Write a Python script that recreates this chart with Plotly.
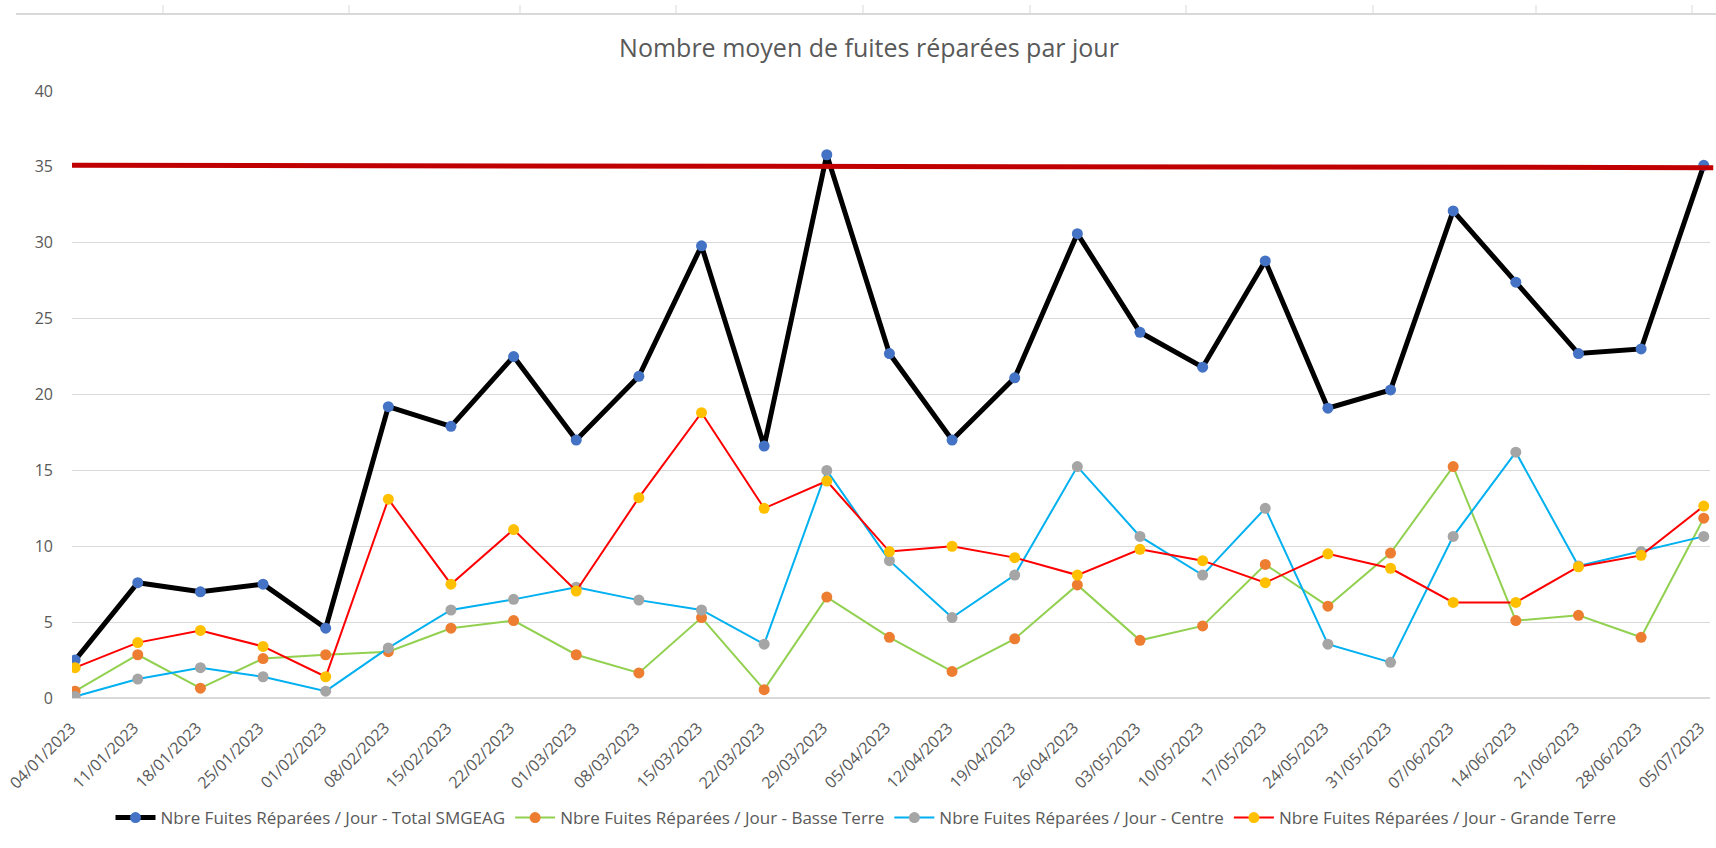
import plotly.graph_objects as go

# ---------------- data ----------------
dates = ["04/01/2023", "11/01/2023", "18/01/2023", "25/01/2023", "01/02/2023",
         "08/02/2023", "15/02/2023", "22/02/2023", "01/03/2023", "08/03/2023",
         "15/03/2023", "22/03/2023", "29/03/2023", "05/04/2023", "12/04/2023",
         "19/04/2023", "26/04/2023", "03/05/2023", "10/05/2023", "17/05/2023",
         "24/05/2023", "31/05/2023", "07/06/2023", "14/06/2023", "21/06/2023",
         "28/06/2023", "05/07/2023"]

total_smgeag = [2.5, 7.6, 7.0, 7.5, 4.6, 19.2, 17.9, 22.5, 17.0, 21.2, 29.8, 16.6,
                35.8, 22.7, 17.0, 21.1, 30.6, 24.1, 21.8, 28.8, 19.1, 20.3, 32.1,
                27.4, 22.7, 23.0, 35.1]
basse_terre = [0.45, 2.85, 0.65, 2.6, 2.85, 3.05, 4.6, 5.1, 2.85, 1.65, 5.3, 0.55,
               6.65, 4.0, 1.75, 3.9, 7.45, 3.8, 4.75, 8.8, 6.05, 9.55, 15.25, 5.1,
               5.45, 4.0, 11.85]
centre = [0.1, 1.25, 2.0, 1.4, 0.45, 3.3, 5.8, 6.5, 7.3, 6.45, 5.8, 3.55, 15.0,
          9.05, 5.3, 8.1, 15.25, 10.65, 8.1, 12.5, 3.55, 2.35, 10.65, 16.2, 8.7,
          9.65, 10.65]
grande_terre = [2.0, 3.65, 4.45, 3.4, 1.4, 13.1, 7.5, 11.1, 7.05, 13.2, 18.8, 12.5,
                14.3, 9.65, 10.0, 9.25, 8.1, 9.8, 9.05, 7.6, 9.5, 8.55, 6.3, 6.3,
                8.65, 9.4, 12.65]

target_line = [35.1, 34.95]   # objective line (start, end)

series_names = ["Nbre Fuites Réparées / Jour - Total SMGEAG",
                "Nbre Fuites Réparées / Jour - Basse Terre",
                "Nbre Fuites Réparées / Jour - Centre",
                "Nbre Fuites Réparées / Jour - Grande Terre"]

y_ticks = [0, 5, 10, 15, 20, 25, 30, 35, 40]

# ---------------- figure ----------------
W, H = 1716, 848
ML, MR, MT, MB = 72, 6, 91, 150
FONT = "Open Sans"
GREY_TXT = "#595959"

fig = go.Figure()

styles = [
    dict(line=dict(color="#000000", width=5), marker=dict(color="#4472C4", size=11)),
    dict(line=dict(color="#92D050", width=2), marker=dict(color="#ED7D31", size=11)),
    dict(line=dict(color="#00B0F0", width=2), marker=dict(color="#A5A5A5", size=11)),
    dict(line=dict(color="#FF0000", width=2), marker=dict(color="#FFC000", size=11)),
]
for name, vals, st in zip(series_names, [total_smgeag, basse_terre, centre, grande_terre], styles):
    fig.add_trace(go.Scatter(x=dates, y=vals, name=name, mode="lines+markers",
                             line=st["line"], marker=st["marker"]))

# objective line drawn on top
fig.add_shape(type="line", xref="paper", yref="y", x0=0, x1=1.002,
              y0=target_line[0], y1=target_line[1],
              line=dict(color="#C00000", width=5), layer="above")

# decorative strip at the top (sheet grid border)
pw = W - ML - MR
ph = H - MT - MB


def px2paper(x, y):
    return (x - ML) / pw, (H - MB - y) / ph


x0p, y0p = px2paper(16, 14)
x1p, _ = px2paper(W, 14)
fig.add_shape(type="line", xref="paper", yref="paper", x0=x0p, x1=x1p, y0=y0p, y1=y0p,
              line=dict(color="#D9D9D9", width=2))
for tx in [163, 349, 520, 676, 863, 1030, 1186, 1373, 1536, 1692]:
    a, b = px2paper(tx, 5)
    _, c = px2paper(tx, 14)
    fig.add_shape(type="line", xref="paper", yref="paper", x0=a, x1=a, y0=c, y1=b,
                  line=dict(color="#D9D9D9", width=1))

# rotated category labels (Excel-like placement)
for d in dates:
    fig.add_annotation(x=d, xref="x", y=0, yref="paper", text=d, textangle=-45,
                       xanchor="right", yanchor="top", xshift=7, yshift=-18,
                       showarrow=False, borderpad=0,
                       font=dict(family=FONT, size=16, color=GREY_TXT))

fig.update_layout(
    width=W, height=H,
    margin=dict(l=ML, r=MR, t=MT, b=MB, pad=0, autoexpand=False),
    paper_bgcolor="white", plot_bgcolor="white",
    font=dict(family=FONT, color=GREY_TXT, size=16),
    title=dict(text="Nombre moyen de fuites réparées par jour",
               font=dict(family=FONT, size=25, color=GREY_TXT),
               x=869 / W, xanchor="center", xref="container",
               y=1 - 48 / H, yanchor="middle", yref="container"),
    showlegend=True,
    legend=dict(orientation="h", x=(866 - ML) / pw, xanchor="center",
                y=-120 / ph, yanchor="middle",
                font=dict(family=FONT, size=17, color=GREY_TXT),
                itemwidth=40, tracegroupgap=0),
    xaxis=dict(type="category", range=[-0.05, 26.1], showgrid=False,
               showline=False, zeroline=False, ticks="", showticklabels=False),
    yaxis=dict(range=[0, 40], tickvals=y_ticks, showgrid=True, gridcolor="#D9D9D9",
               gridwidth=1, zeroline=True, zerolinecolor="#D9D9D9", zerolinewidth=1.5,
               showline=False, ticks="",
               tickfont=dict(family=FONT, size=16, color=GREY_TXT),
               ticklabelstandoff=18),
)

fig.write_html("out.html", config={"displayModeBar": False},
               post_script="document.body.style.margin='0';")
